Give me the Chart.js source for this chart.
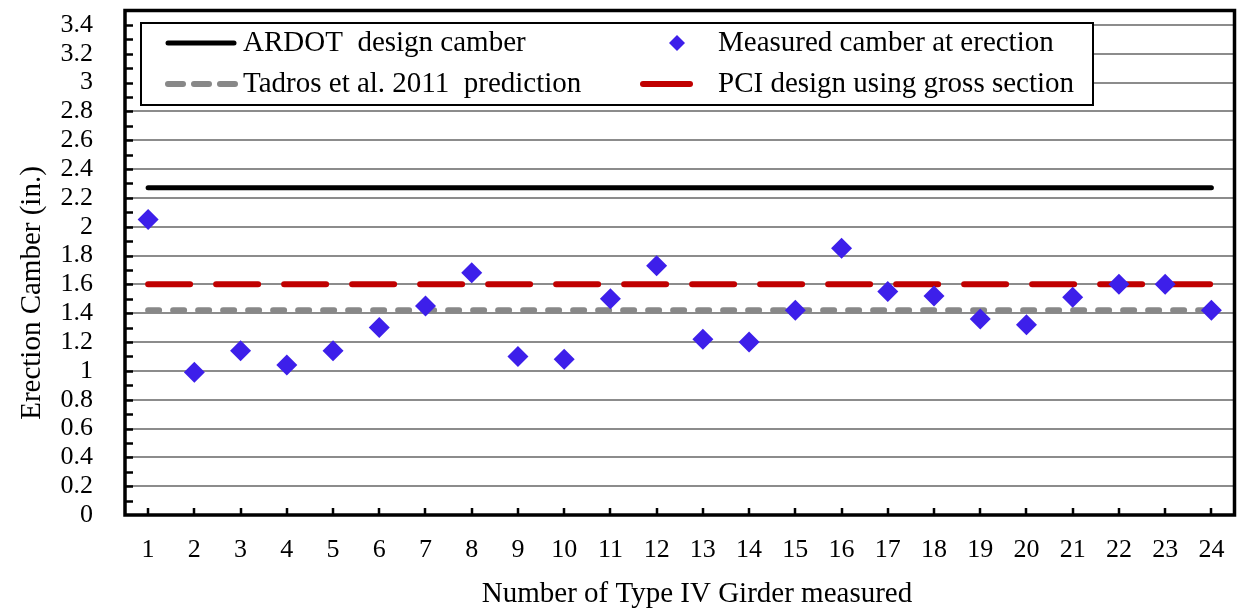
<!DOCTYPE html>
<html>
<head>
<meta charset="utf-8">
<title>Erection camber of Type IV girders</title>
<script src="https://cdn.jsdelivr.net/npm/chart.js@4.4.1/dist/chart.umd.min.js"></script>
<style>
  html, body { margin: 0; padding: 0; background: #ffffff; }
  #wrap { width: 1245px; height: 611px; }
</style>
</head>
<body>
<div id="wrap"><canvas id="camberChart" width="1245" height="611"></canvas></div>
<script>
// Girder numbers along the horizontal axis
const girders = ['1', '2', '3', '4', '5', '6', '7', '8', '9', '10', '11', '12',
                 '13', '14', '15', '16', '17', '18', '19', '20', '21', '22', '23', '24'];

// Measured camber at erection (in.)
const measuredCamber = [2.05, 0.99, 1.14, 1.04, 1.14, 1.30, 1.45, 1.68, 1.10, 1.08, 1.50, 1.73,
                        1.22, 1.20, 1.42, 1.85, 1.55, 1.52, 1.36, 1.32, 1.51, 1.60, 1.60, 1.42];

// Design / predicted camber levels (in.)
const ardotDesign = 2.27;
const tadrosPrediction = 1.42;
const pciGrossSection = 1.60;

// Vertical axis: range, labelled ticks and minor tick spacing
const yMin = 0;
const yMax = 3.5;
const yTickValues = [0, 0.2, 0.4, 0.6, 0.8, 1, 1.2, 1.4, 1.6, 1.8, 2,
                     2.2, 2.4, 2.6, 2.8, 3, 3.2, 3.4];
const yMinorStep = 0.1;

// Series names
const seriesNames = {
  ardot: 'ARDOT  design camber',
  measured: 'Measured camber at erection',
  tadros: 'Tadros et al. 2011  prediction',
  pci: 'PCI design using gross section'
};
const xTitle = 'Number of Type IV Girder measured';
const yTitle = 'Erection Camber (in.)';

const SERIF = "'Liberation Serif', 'Times New Roman', Times, serif";
const COLORS = {
  ardot: '#000000',
  tadros: '#888888',
  pci: '#C00000',
  measured: '#3D1FEA',
  grid: '#8C8C8C'
};

// A level line spans from the first girder to the last one
function levelLine(value) {
  return [{ x: girders[0], y: value }, { x: girders[girders.length - 1], y: value }];
}

// Frame, inward tick marks, axis titles and the boxed legend
const decorPlugin = {
  id: 'decor',
  afterDraw(chart) {
    const { ctx, chartArea: a, scales: { x, y } } = chart;
    const ds = chart.data.datasets;

    // legend box (white, hides the grid behind it)
    const box = { left: 141, top: 23, right: 1093, bottom: 105 };
    ctx.save();
    ctx.fillStyle = '#ffffff';
    ctx.fillRect(a.left, box.top, box.right - a.left, box.bottom - box.top);
    ctx.strokeStyle = '#000000';
    ctx.lineWidth = 2;
    ctx.strokeRect(box.left, box.top, box.right - box.left, box.bottom - box.top);

    // inward tick marks
    ctx.beginPath();
    ctx.lineWidth = 2.5;
    for (let k = 1; k * yMinorStep < yMax - 1e-9; k++) {
      const py = Math.round(y.getPixelForValue(k * yMinorStep)) + 0.5;
      ctx.moveTo(a.left, py);
      ctx.lineTo(a.left + 8, py);
    }
    girders.forEach((g, i) => {
      const px = Math.round(x.getPixelForValue(i));
      ctx.moveTo(px, a.bottom);
      ctx.lineTo(px, a.bottom - 7);
    });
    ctx.stroke();

    // plot frame
    ctx.lineWidth = 3.5;
    ctx.strokeRect(a.left, a.top, a.right - a.left, a.bottom - a.top);

    // legend entries
    const row1 = 43, row2 = 84;
    ctx.lineCap = 'round';
    // ARDOT sample
    ctx.beginPath();
    ctx.strokeStyle = ds[0].borderColor;
    ctx.lineWidth = 5;
    ctx.moveTo(168, row1); ctx.lineTo(234, row1);
    ctx.stroke();
    // Tadros sample
    ctx.beginPath();
    ctx.strokeStyle = ds[1].borderColor;
    ctx.lineWidth = 6;
    ctx.setLineDash([15, 11]);
    ctx.moveTo(168, row2); ctx.lineTo(235, row2);
    ctx.stroke();
    ctx.setLineDash([]);
    // PCI sample
    ctx.beginPath();
    ctx.strokeStyle = ds[2].borderColor;
    ctx.lineWidth = 6;
    ctx.moveTo(643, row2); ctx.lineTo(690, row2);
    ctx.stroke();
    // measured sample (diamond)
    ctx.beginPath();
    ctx.fillStyle = ds[3].backgroundColor;
    const r = 8;
    ctx.moveTo(677, row1 - r); ctx.lineTo(677 + r, row1);
    ctx.lineTo(677, row1 + r); ctx.lineTo(677 - r, row1);
    ctx.closePath();
    ctx.fill();

    ctx.fillStyle = '#000000';
    ctx.font = '29px ' + SERIF;
    ctx.textBaseline = 'middle';
    ctx.textAlign = 'left';
    ctx.fillText(ds[0].label, 243, row1);
    ctx.fillText(ds[1].label, 243, row2);
    ctx.fillText(ds[3].label, 718, row1);
    ctx.fillText(ds[2].label, 718, row2);

    // axis titles
    ctx.textAlign = 'center';
    ctx.fillText(xTitle, 697, 594);
    ctx.translate(32, 293);
    ctx.rotate(-Math.PI / 2);
    ctx.fillText(yTitle, 0, 0);
    ctx.restore();
  }
};

new Chart(document.getElementById('camberChart'), {
  type: 'line',
  data: {
    labels: girders,
    datasets: [
      {
        label: seriesNames.ardot,
        data: levelLine(ardotDesign),
        borderColor: COLORS.ardot,
        borderWidth: 5,
        borderCapStyle: 'round',
        pointRadius: 0,
        order: 4
      },
      {
        label: seriesNames.tadros,
        data: levelLine(tadrosPrediction),
        borderColor: COLORS.tadros,
        borderWidth: 6,
        borderCapStyle: 'round',
        borderDash: [11, 14],
        pointRadius: 0,
        order: 3
      },
      {
        label: seriesNames.pci,
        data: levelLine(pciGrossSection),
        borderColor: COLORS.pci,
        borderWidth: 6,
        borderCapStyle: 'round',
        borderDash: [42, 26],
        pointRadius: 0,
        order: 2
      },
      {
        label: seriesNames.measured,
        data: measuredCamber,
        showLine: false,
        pointStyle: 'rectRot',
        pointRadius: 10.5,
        pointHoverRadius: 10.5,
        backgroundColor: COLORS.measured,
        borderColor: COLORS.measured,
        pointBorderWidth: 0,
        order: 1
      }
    ]
  },
  options: {
    responsive: false,
    animation: false,
    devicePixelRatio: 1,
    layout: { padding: { top: 10, right: 10, left: 0, bottom: 0 } },
    plugins: {
      legend: { display: false },
      tooltip: { enabled: false }
    },
    scales: {
      x: {
        type: 'category',
        offset: true,
        grid: { display: false, drawTicks: false },
        border: { display: false },
        ticks: {
          color: '#000000',
          font: { family: SERIF, size: 26 },
          padding: 20,
          maxRotation: 0,
          autoSkip: false
        },
        afterFit(scale) {
          scale.height = 96;
          scale.paddingLeft = 0;
          scale.paddingRight = 0;
        }
      },
      y: {
        min: yMin,
        max: yMax,
        bounds: 'data',
        grid: {
          color: COLORS.grid,
          lineWidth: 2,
          drawTicks: false
        },
        border: { display: false },
        ticks: {
          autoSkip: false,
          color: '#000000',
          font: { family: SERIF, size: 26 },
          padding: 32,
          callback: (v) => String(+Number(v).toFixed(1))
        },
        afterBuildTicks(scale) {
          scale.ticks = yTickValues.map((v) => ({ value: v }));
        },
        afterFit(scale) {
          scale.width = 125;
          scale.paddingTop = 0;
          scale.paddingBottom = 0;
        }
      }
    }
  },
  plugins: [decorPlugin]
});
</script>
</body>
</html>
